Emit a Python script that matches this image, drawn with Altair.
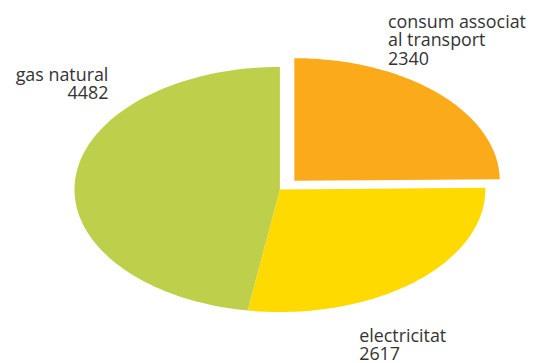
import altair as alt
import pandas as pd

# ---- data ----
categories = ["consum associat al transport", "electricitat", "gas natural"]
label_lines = [["consum associat", "al transport"], ["electricitat"], ["gas natural"]]
values = [2340, 2617, 4482]

# ---- styles / layout ----
colors = ["#FBAB19", "#FFDA00", "#BED04B"]
explode = {"consum associat al transport": 0.1}
label_style = {
    # category: (align, dx, dy)
    "consum associat al transport": ("left", -51.0, -66.0),
    "electricitat": ("left", -55.5, 60.0),
    "gas natural": ("right", 33.5, -100.0),
}

W, H = 518, 355          # plot area in px (page margin 8)
CX, CY = 282 - 8, 189.5 - 8   # ellipse centre inside the plot area
RX, RY = 207.0, 123.5         # ellipse radii in px

XMIN = -CX / RX
XMAX = XMIN + W / RX
YMAX = CY / RY
YMIN = YMAX - H / RY

df = pd.DataFrame({
    "category": categories,
    "label": ["|".join(l) for l in label_lines],
    "value": values,
    "order": list(range(len(categories))),
    "explode": [explode.get(c, 0.0) for c in categories],
})

xs = alt.Scale(domain=[XMIN, XMAX], nice=False, zero=False)
ys = alt.Scale(domain=[YMIN, YMAX], nice=False, zero=False)

base = (
    alt.Chart(df)
    .transform_window(cum="sum(value)", sort=[alt.SortField("order")], frame=[None, 0])
    .transform_joinaggregate(total="sum(value)")
    .transform_calculate(a0="2*PI*(datum.cum - datum.value)/datum.total")
    .transform_calculate(a1="2*PI*datum.cum/datum.total")
    .transform_calculate(mid="(datum.a0 + datum.a1)/2")
    .transform_calculate(ox="datum.explode*sin(datum.mid)")
    .transform_calculate(oy="datum.explode*cos(datum.mid)")
)

N = 90
slices = (
    base.transform_calculate(step=f"sequence(-1, {N + 1})")
    .transform_flatten(["step"])
    .transform_calculate(t=f"datum.a0 + (datum.a1 - datum.a0)*max(datum.step, 0)/{N}")
    .transform_calculate(r="datum.step < 0 ? 0 : 1")
    .transform_calculate(px="datum.ox + datum.r*sin(datum.t)")
    .transform_calculate(py="datum.oy + datum.r*cos(datum.t)")
    .mark_line(filled=True, interpolate="linear-closed")
    .encode(
        x=alt.X("px:Q", scale=xs, axis=None),
        y=alt.Y("py:Q", scale=ys, axis=None),
        order=alt.Order("step:Q"),
        detail="category:N",
        color=alt.Color("category:N", scale=alt.Scale(domain=categories, range=colors), legend=None),
    )
)

layers = [slices]
for cat, (align, dx, dy) in label_style.items():
    layers.append(
        base.transform_filter(alt.datum.category == cat)
        .transform_calculate(lx="datum.ox + sin(datum.mid)")
        .transform_calculate(ly="datum.oy + cos(datum.mid)")
        .transform_calculate(txt="split(datum.label + '|' + datum.value, '|')")
        .mark_text(
            align=align, baseline="alphabetic", dx=dx, dy=dy,
            font="Open Sans", fontSize=18, lineHeight=18.5, color="#333333",
        )
        .encode(
            x=alt.X("lx:Q", scale=xs, axis=None),
            y=alt.Y("ly:Q", scale=ys, axis=None),
            text=alt.Text("txt:N"),
        )
    )

chart = (
    alt.layer(*layers)
    .properties(width=W, height=H, padding=0, background="white")
    .configure_view(stroke=None)
)

chart.save("out.html", embed_options={"renderer": "svg", "actions": False})
